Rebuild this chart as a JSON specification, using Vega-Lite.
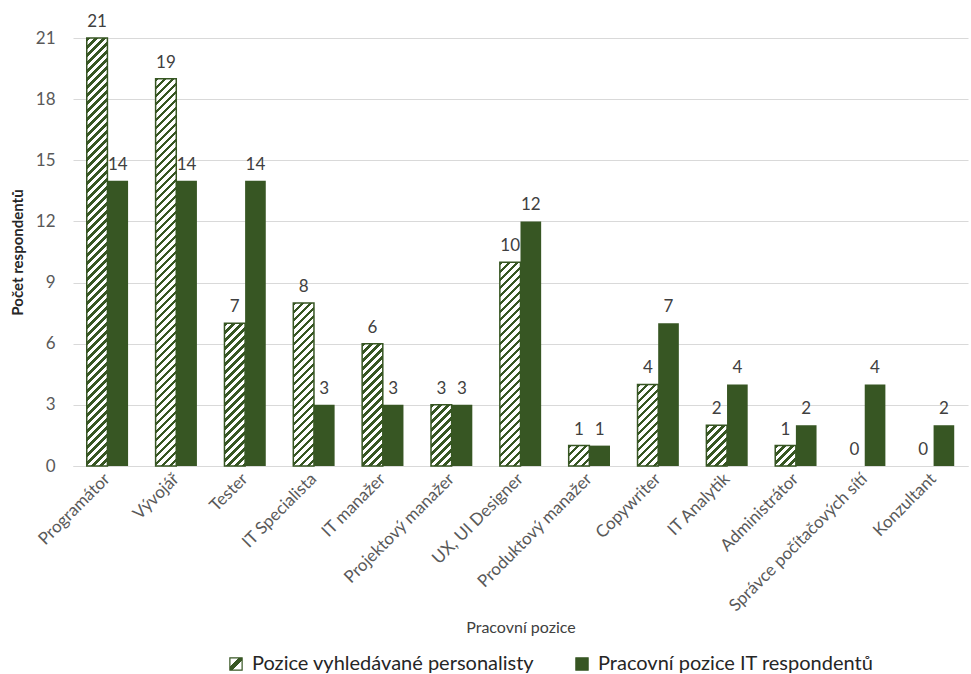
{
  "$schema": "https://vega.github.io/schema/vega-lite/v6.json",
  "width": 895,
  "height": 428,
  "autosize": {"type": "none"},
  "padding": {"left": 73, "top": 38, "right": 3, "bottom": 208},
  "config": {"font": "Lato", "view": {"stroke": null}},
  "params": [
    {
      "name": "hatchSymbol",
      "value": {
        "gradient": "linear", "x1": 0, "y1": 0, "x2": 1, "y2": 1,
        "stops": [
          {"offset": 0, "color": "#ffffff"},
          {"offset": 0.36, "color": "#ffffff"},
          {"offset": 0.36, "color": "#375623"},
          {"offset": 0.62, "color": "#375623"},
          {"offset": 0.62, "color": "#ffffff"},
          {"offset": 1, "color": "#ffffff"}
        ]
      }
    },
    {
      "name": "hatch",
      "value": [
        {"offset":0,"color":"#375623"},{"offset":0.0073,"color":"#375623"},{"offset":0.0073,"color":"#ffffff"},{"offset":0.01667,"color":"#ffffff"},
        {"offset":0.01667,"color":"#375623"},{"offset":0.02397,"color":"#375623"},{"offset":0.02397,"color":"#ffffff"},{"offset":0.03333,"color":"#ffffff"},
        {"offset":0.03333,"color":"#375623"},{"offset":0.04063,"color":"#375623"},{"offset":0.04063,"color":"#ffffff"},{"offset":0.05,"color":"#ffffff"},
        {"offset":0.05,"color":"#375623"},{"offset":0.0573,"color":"#375623"},{"offset":0.0573,"color":"#ffffff"},{"offset":0.06667,"color":"#ffffff"},
        {"offset":0.06667,"color":"#375623"},{"offset":0.07397,"color":"#375623"},{"offset":0.07397,"color":"#ffffff"},{"offset":0.08333,"color":"#ffffff"},
        {"offset":0.08333,"color":"#375623"},{"offset":0.09063,"color":"#375623"},{"offset":0.09063,"color":"#ffffff"},{"offset":0.1,"color":"#ffffff"},
        {"offset":0.1,"color":"#375623"},{"offset":0.1073,"color":"#375623"},{"offset":0.1073,"color":"#ffffff"},{"offset":0.11667,"color":"#ffffff"},
        {"offset":0.11667,"color":"#375623"},{"offset":0.12397,"color":"#375623"},{"offset":0.12397,"color":"#ffffff"},{"offset":0.13333,"color":"#ffffff"},
        {"offset":0.13333,"color":"#375623"},{"offset":0.14063,"color":"#375623"},{"offset":0.14063,"color":"#ffffff"},{"offset":0.15,"color":"#ffffff"},
        {"offset":0.15,"color":"#375623"},{"offset":0.1573,"color":"#375623"},{"offset":0.1573,"color":"#ffffff"},{"offset":0.16667,"color":"#ffffff"},
        {"offset":0.16667,"color":"#375623"},{"offset":0.17397,"color":"#375623"},{"offset":0.17397,"color":"#ffffff"},{"offset":0.18333,"color":"#ffffff"},
        {"offset":0.18333,"color":"#375623"},{"offset":0.19063,"color":"#375623"},{"offset":0.19063,"color":"#ffffff"},{"offset":0.2,"color":"#ffffff"},
        {"offset":0.2,"color":"#375623"},{"offset":0.2073,"color":"#375623"},{"offset":0.2073,"color":"#ffffff"},{"offset":0.21667,"color":"#ffffff"},
        {"offset":0.21667,"color":"#375623"},{"offset":0.22397,"color":"#375623"},{"offset":0.22397,"color":"#ffffff"},{"offset":0.23333,"color":"#ffffff"},
        {"offset":0.23333,"color":"#375623"},{"offset":0.24063,"color":"#375623"},{"offset":0.24063,"color":"#ffffff"},{"offset":0.25,"color":"#ffffff"},
        {"offset":0.25,"color":"#375623"},{"offset":0.2573,"color":"#375623"},{"offset":0.2573,"color":"#ffffff"},{"offset":0.26667,"color":"#ffffff"},
        {"offset":0.26667,"color":"#375623"},{"offset":0.27397,"color":"#375623"},{"offset":0.27397,"color":"#ffffff"},{"offset":0.28333,"color":"#ffffff"},
        {"offset":0.28333,"color":"#375623"},{"offset":0.29063,"color":"#375623"},{"offset":0.29063,"color":"#ffffff"},{"offset":0.3,"color":"#ffffff"},
        {"offset":0.3,"color":"#375623"},{"offset":0.3073,"color":"#375623"},{"offset":0.3073,"color":"#ffffff"},{"offset":0.31667,"color":"#ffffff"},
        {"offset":0.31667,"color":"#375623"},{"offset":0.32397,"color":"#375623"},{"offset":0.32397,"color":"#ffffff"},{"offset":0.33333,"color":"#ffffff"},
        {"offset":0.33333,"color":"#375623"},{"offset":0.34063,"color":"#375623"},{"offset":0.34063,"color":"#ffffff"},{"offset":0.35,"color":"#ffffff"},
        {"offset":0.35,"color":"#375623"},{"offset":0.3573,"color":"#375623"},{"offset":0.3573,"color":"#ffffff"},{"offset":0.36667,"color":"#ffffff"},
        {"offset":0.36667,"color":"#375623"},{"offset":0.37397,"color":"#375623"},{"offset":0.37397,"color":"#ffffff"},{"offset":0.38333,"color":"#ffffff"},
        {"offset":0.38333,"color":"#375623"},{"offset":0.39063,"color":"#375623"},{"offset":0.39063,"color":"#ffffff"},{"offset":0.4,"color":"#ffffff"},
        {"offset":0.4,"color":"#375623"},{"offset":0.4073,"color":"#375623"},{"offset":0.4073,"color":"#ffffff"},{"offset":0.41667,"color":"#ffffff"},
        {"offset":0.41667,"color":"#375623"},{"offset":0.42397,"color":"#375623"},{"offset":0.42397,"color":"#ffffff"},{"offset":0.43333,"color":"#ffffff"},
        {"offset":0.43333,"color":"#375623"},{"offset":0.44063,"color":"#375623"},{"offset":0.44063,"color":"#ffffff"},{"offset":0.45,"color":"#ffffff"},
        {"offset":0.45,"color":"#375623"},{"offset":0.4573,"color":"#375623"},{"offset":0.4573,"color":"#ffffff"},{"offset":0.46667,"color":"#ffffff"},
        {"offset":0.46667,"color":"#375623"},{"offset":0.47397,"color":"#375623"},{"offset":0.47397,"color":"#ffffff"},{"offset":0.48333,"color":"#ffffff"},
        {"offset":0.48333,"color":"#375623"},{"offset":0.49063,"color":"#375623"},{"offset":0.49063,"color":"#ffffff"},{"offset":0.5,"color":"#ffffff"},
        {"offset":0.5,"color":"#375623"},{"offset":0.5073,"color":"#375623"},{"offset":0.5073,"color":"#ffffff"},{"offset":0.51667,"color":"#ffffff"},
        {"offset":0.51667,"color":"#375623"},{"offset":0.52397,"color":"#375623"},{"offset":0.52397,"color":"#ffffff"},{"offset":0.53333,"color":"#ffffff"},
        {"offset":0.53333,"color":"#375623"},{"offset":0.54063,"color":"#375623"},{"offset":0.54063,"color":"#ffffff"},{"offset":0.55,"color":"#ffffff"},
        {"offset":0.55,"color":"#375623"},{"offset":0.5573,"color":"#375623"},{"offset":0.5573,"color":"#ffffff"},{"offset":0.56667,"color":"#ffffff"},
        {"offset":0.56667,"color":"#375623"},{"offset":0.57397,"color":"#375623"},{"offset":0.57397,"color":"#ffffff"},{"offset":0.58333,"color":"#ffffff"},
        {"offset":0.58333,"color":"#375623"},{"offset":0.59063,"color":"#375623"},{"offset":0.59063,"color":"#ffffff"},{"offset":0.6,"color":"#ffffff"},
        {"offset":0.6,"color":"#375623"},{"offset":0.6073,"color":"#375623"},{"offset":0.6073,"color":"#ffffff"},{"offset":0.61667,"color":"#ffffff"},
        {"offset":0.61667,"color":"#375623"},{"offset":0.62397,"color":"#375623"},{"offset":0.62397,"color":"#ffffff"},{"offset":0.63333,"color":"#ffffff"},
        {"offset":0.63333,"color":"#375623"},{"offset":0.64063,"color":"#375623"},{"offset":0.64063,"color":"#ffffff"},{"offset":0.65,"color":"#ffffff"},
        {"offset":0.65,"color":"#375623"},{"offset":0.6573,"color":"#375623"},{"offset":0.6573,"color":"#ffffff"},{"offset":0.66667,"color":"#ffffff"},
        {"offset":0.66667,"color":"#375623"},{"offset":0.67397,"color":"#375623"},{"offset":0.67397,"color":"#ffffff"},{"offset":0.68333,"color":"#ffffff"},
        {"offset":0.68333,"color":"#375623"},{"offset":0.69063,"color":"#375623"},{"offset":0.69063,"color":"#ffffff"},{"offset":0.7,"color":"#ffffff"},
        {"offset":0.7,"color":"#375623"},{"offset":0.7073,"color":"#375623"},{"offset":0.7073,"color":"#ffffff"},{"offset":0.71667,"color":"#ffffff"},
        {"offset":0.71667,"color":"#375623"},{"offset":0.72397,"color":"#375623"},{"offset":0.72397,"color":"#ffffff"},{"offset":0.73333,"color":"#ffffff"},
        {"offset":0.73333,"color":"#375623"},{"offset":0.74063,"color":"#375623"},{"offset":0.74063,"color":"#ffffff"},{"offset":0.75,"color":"#ffffff"},
        {"offset":0.75,"color":"#375623"},{"offset":0.7573,"color":"#375623"},{"offset":0.7573,"color":"#ffffff"},{"offset":0.76667,"color":"#ffffff"},
        {"offset":0.76667,"color":"#375623"},{"offset":0.77397,"color":"#375623"},{"offset":0.77397,"color":"#ffffff"},{"offset":0.78333,"color":"#ffffff"},
        {"offset":0.78333,"color":"#375623"},{"offset":0.79063,"color":"#375623"},{"offset":0.79063,"color":"#ffffff"},{"offset":0.8,"color":"#ffffff"},
        {"offset":0.8,"color":"#375623"},{"offset":0.8073,"color":"#375623"},{"offset":0.8073,"color":"#ffffff"},{"offset":0.81667,"color":"#ffffff"},
        {"offset":0.81667,"color":"#375623"},{"offset":0.82397,"color":"#375623"},{"offset":0.82397,"color":"#ffffff"},{"offset":0.83333,"color":"#ffffff"},
        {"offset":0.83333,"color":"#375623"},{"offset":0.84063,"color":"#375623"},{"offset":0.84063,"color":"#ffffff"},{"offset":0.85,"color":"#ffffff"},
        {"offset":0.85,"color":"#375623"},{"offset":0.8573,"color":"#375623"},{"offset":0.8573,"color":"#ffffff"},{"offset":0.86667,"color":"#ffffff"},
        {"offset":0.86667,"color":"#375623"},{"offset":0.87397,"color":"#375623"},{"offset":0.87397,"color":"#ffffff"},{"offset":0.88333,"color":"#ffffff"},
        {"offset":0.88333,"color":"#375623"},{"offset":0.89063,"color":"#375623"},{"offset":0.89063,"color":"#ffffff"},{"offset":0.9,"color":"#ffffff"},
        {"offset":0.9,"color":"#375623"},{"offset":0.9073,"color":"#375623"},{"offset":0.9073,"color":"#ffffff"},{"offset":0.91667,"color":"#ffffff"},
        {"offset":0.91667,"color":"#375623"},{"offset":0.92397,"color":"#375623"},{"offset":0.92397,"color":"#ffffff"},{"offset":0.93333,"color":"#ffffff"},
        {"offset":0.93333,"color":"#375623"},{"offset":0.94063,"color":"#375623"},{"offset":0.94063,"color":"#ffffff"},{"offset":0.95,"color":"#ffffff"},
        {"offset":0.95,"color":"#375623"},{"offset":0.9573,"color":"#375623"},{"offset":0.9573,"color":"#ffffff"},{"offset":0.96667,"color":"#ffffff"},
        {"offset":0.96667,"color":"#375623"},{"offset":0.97397,"color":"#375623"},{"offset":0.97397,"color":"#ffffff"},{"offset":0.98333,"color":"#ffffff"},
        {"offset":0.98333,"color":"#375623"},{"offset":0.99063,"color":"#375623"},{"offset":0.99063,"color":"#ffffff"},{"offset":1,"color":"#ffffff"}
      ]
    }
  ],
  "data": {
    "values": [
      {"pozice": "Programátor", "serie": "Pozice vyhledávané personalisty", "pocet": 21},
      {"pozice": "Programátor", "serie": "Pracovní pozice IT respondentů", "pocet": 14},
      {"pozice": "Vývojář", "serie": "Pozice vyhledávané personalisty", "pocet": 19},
      {"pozice": "Vývojář", "serie": "Pracovní pozice IT respondentů", "pocet": 14},
      {"pozice": "Tester", "serie": "Pozice vyhledávané personalisty", "pocet": 7},
      {"pozice": "Tester", "serie": "Pracovní pozice IT respondentů", "pocet": 14},
      {"pozice": "IT Specialista", "serie": "Pozice vyhledávané personalisty", "pocet": 8},
      {"pozice": "IT Specialista", "serie": "Pracovní pozice IT respondentů", "pocet": 3},
      {"pozice": "IT manažer", "serie": "Pozice vyhledávané personalisty", "pocet": 6},
      {"pozice": "IT manažer", "serie": "Pracovní pozice IT respondentů", "pocet": 3},
      {"pozice": "Projektový manažer", "serie": "Pozice vyhledávané personalisty", "pocet": 3},
      {"pozice": "Projektový manažer", "serie": "Pracovní pozice IT respondentů", "pocet": 3},
      {"pozice": "UX, UI Designer", "serie": "Pozice vyhledávané personalisty", "pocet": 10},
      {"pozice": "UX, UI Designer", "serie": "Pracovní pozice IT respondentů", "pocet": 12},
      {"pozice": "Produktový manažer", "serie": "Pozice vyhledávané personalisty", "pocet": 1},
      {"pozice": "Produktový manažer", "serie": "Pracovní pozice IT respondentů", "pocet": 1},
      {"pozice": "Copywriter", "serie": "Pozice vyhledávané personalisty", "pocet": 4},
      {"pozice": "Copywriter", "serie": "Pracovní pozice IT respondentů", "pocet": 7},
      {"pozice": "IT Analytik", "serie": "Pozice vyhledávané personalisty", "pocet": 2},
      {"pozice": "IT Analytik", "serie": "Pracovní pozice IT respondentů", "pocet": 4},
      {"pozice": "Administrátor", "serie": "Pozice vyhledávané personalisty", "pocet": 1},
      {"pozice": "Administrátor", "serie": "Pracovní pozice IT respondentů", "pocet": 2},
      {"pozice": "Správce počítačových sítí", "serie": "Pozice vyhledávané personalisty", "pocet": 0},
      {"pozice": "Správce počítačových sítí", "serie": "Pracovní pozice IT respondentů", "pocet": 4},
      {"pozice": "Konzultant", "serie": "Pozice vyhledávané personalisty", "pocet": 0},
      {"pozice": "Konzultant", "serie": "Pracovní pozice IT respondentů", "pocet": 2}
    ]
  },
  "encoding": {
    "x": {
      "field": "pozice",
      "type": "nominal",
      "sort": null,
      "title": "Pracovní pozice",
      "scale": {"paddingInner": 0.4, "paddingOuter": 0.2},
      "axis": {
        "labelAngle": -45,
        "labelAlign": "right",
        "labelBaseline": "middle",
        "labelFontSize": 17,
        "labelColor": "#595959",
        "labelPadding": 10,
        "labelLimit": 0,
        "ticks": false,
        "domainColor": "#d9d9d9",
        "domainWidth": 1,
        "titleFontSize": 16,
        "titleFontWeight": "normal",
        "titleColor": "#404040",
        "titlePadding": 6
      }
    },
    "xOffset": {"field": "serie", "type": "nominal", "sort": null},
    "y": {
      "field": "pocet",
      "type": "quantitative",
      "title": "Počet respondentů",
      "scale": {"domain": [0, 21], "nice": false},
      "axis": {
        "values": [0, 3, 6, 9, 12, 15, 18, 21],
        "domain": false,
        "ticks": false,
        "gridColor": "#d9d9d9",
        "gridWidth": 1,
        "labelFontSize": 17,
        "labelColor": "#595959",
        "labelPadding": 18,
        "titleFontSize": 15,
        "titleFontWeight": "bold",
        "titleColor": "#262626",
        "titlePadding": 10
      }
    }
  },
  "layer": [
    {
      "mark": {"type": "bar", "strokeWidth": 1.5},
      "encoding": {
        "fill": {
          "field": "serie",
          "type": "nominal",
          "sort": null,
          "scale": {"range": [{"expr": "hatchSymbol"}, "#375623"]},
          "condition": {
            "test": "datum.serie === 'Pozice vyhledávané personalisty'",
            "value": {"expr": "{gradient: 'linear', x1: 0, y1: 0, x2: bandwidth('xOffset') * 480 / (pow(bandwidth('xOffset'), 2) + pow(scale('y', 0) - scale('y', datum.pocet), 2) + 0.001), y2: (scale('y', 0) - scale('y', datum.pocet)) * 480 / (pow(bandwidth('xOffset'), 2) + pow(scale('y', 0) - scale('y', datum.pocet), 2) + 0.001), stops: hatch}"}
          },
          "legend": {
            "title": null,
            "orient": "none",
            "legendX": 153,
            "legendY": 616,
            "direction": "horizontal",
            "symbolType": "square",
            "symbolSize": 150,
            "symbolStrokeColor": "#375623",
            "symbolStrokeWidth": 1.2,
            "labelFontSize": 20,
            "labelColor": "#262626",
            "labelOffset": 6,
            "columnPadding": 37,
            "labelLimit": 0
          }
        },
        "stroke": {
          "condition": {
            "test": "datum.serie === 'Pozice vyhledávané personalisty' && datum.pocet > 0",
            "value": "#375623"
          },
          "value": null
        }
      }
    },
    {
      "mark": {"type": "text", "baseline": "alphabetic", "dy": -11, "fontSize": 17, "color": "#404040"},
      "encoding": {
        "text": {"field": "pocet", "type": "quantitative"}
      }
    }
  ]
}
